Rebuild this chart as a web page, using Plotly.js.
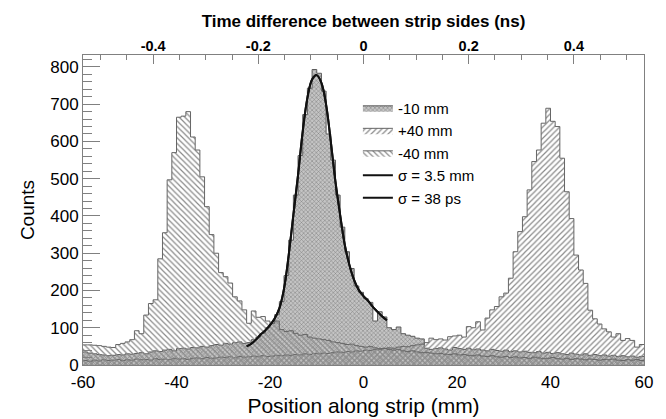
<!DOCTYPE html>
<html><head><meta charset="utf-8">
<script src="https://cdn.plot.ly/plotly-3.0.1.min.js"></script>
<style>html,body{margin:0;padding:0;background:#fff}</style>
</head><body>
<div id="chart" style="width:666px;height:419px"></div>
<script>
const binStart = -60;
const binWidth = 1;
const mmPerNs = 112.5;

const countsMinus10 = [
 35, 32, 30, 28, 27, 25, 26, 28, 27, 30, 29, 31, 33, 30, 35, 38, 36, 40, 42, 38,
 44, 45, 43, 47, 46, 50, 48, 52, 55, 53, 58, 56, 60, 62, 58, 60, 68, 75, 85, 100,
 112, 135, 170, 240, 335, 456, 562, 672, 743, 793, 783, 735, 620, 550, 456, 370, 304, 259, 212, 195,
 178, 168, 118, 143, 129, 100, 95, 102, 84, 80, 77, 72, 70,
 45, 42, 44, 46, 43, 40, 47, 44, 42, 45, 41, 43, 40, 38, 42, 39, 37, 40, 36, 38,
 35, 37, 34, 33, 36, 32, 34, 31, 33, 30, 28, 32, 29, 27, 30, 26, 28, 25, 27, 24,
 26, 23, 25, 22, 24, 21, 23
];
const countsPlus40 = [
 12, 10, 13, 11, 14, 12, 13, 15, 12, 14, 13, 16, 14, 15, 13, 17, 15, 16, 14, 18,
 16, 17, 15, 18, 19, 17, 20, 18, 19, 21, 20, 22, 19, 23, 21, 22, 24, 22, 25, 23,
 24, 26, 25, 27, 26, 28, 27, 30, 28, 31, 30, 32, 31, 33, 35, 34, 36, 35, 38, 37,
 40, 39, 42, 41, 44, 46, 45, 48, 50, 49, 52, 54,
 56, 60, 72, 68, 70, 67, 76, 78, 80, 75,
 103, 100, 116, 94, 126, 148, 157, 183, 193, 233, 304, 358, 398, 470, 546, 577, 649, 689,
 654, 640, 555, 465, 393, 295, 255, 219, 147, 124, 110, 97, 89, 75, 84, 66, 71, 66, 48, 55
];
const countsMinus40 = [
 54, 54, 53, 52, 50, 48, 47, 55, 58, 62,
 68, 92, 84, 134, 165, 175, 285, 355, 497, 570,
 665, 668, 680, 612, 577, 505, 425, 350, 300, 248,
 237, 220, 183, 172, 148, 112, 145, 128, 130, 118,
 112, 118, 95, 90, 92, 85, 80, 82, 75, 72, 70, 68, 66, 62, 60, 58, 55, 56, 52, 50,
 48, 50, 46, 44, 45, 42, 40, 42, 38, 36, 38, 35, 33, 34, 32, 30, 31, 29, 28, 30,
 27, 28, 26, 25, 27, 24, 23, 25, 22, 21, 23, 20, 22, 19, 20, 18, 21, 19, 17, 18,
 20, 17, 16, 18, 15, 17, 16, 14, 16, 15, 13, 15, 14, 16, 13, 12, 14, 13, 15, 12
];
const fitPosition = [-25,-24,-23,-22,-21,-20,-19,-18,-17,-16,-15,-14,-13,-12,-11,-10,-9,-8,-7,-6,-5,-4,-3,-2,-1,0,1,2,3,4,5];
const fitCounts = [50,57,68,82,93,107,125,152,205,295,403,510,627,717,766,778,757,699,600,492,403,322,268,228,201,185,172,156,143,130,120];

const xTickVals = [-60,-40,-20,0,20,40,60];
const xTickText = ['-60','-40','-20','0','20','40','60'];
const timeTickVals = [-0.4,-0.2,0,0.2,0.4];
const timeTickText = ['-0.4','-0.2','0','0.2','0.4'];

function stepXY(counts){
  const x = [], y = [];
  counts.forEach((c,i)=>{ x.push(binStart + i*binWidth); y.push(c); });
  x.push(binStart + counts.length*binWidth); y.push(counts[counts.length-1]);
  return {x, y};
}
const FONT = 'Liberation Sans, Arial, sans-serif';
const s10 = stepXY(countsMinus10), sP40 = stepXY(countsPlus40), sM40 = stepXY(countsMinus40);

const traces = [
  {type:'scatter', mode:'lines', name:'-10 mm', x:s10.x, y:s10.y,
   line:{shape:'hv', color:'#5a5a5a', width:1}, fill:'tozeroy', fillcolor:'#c2c2c2',
   fillpattern:{shape:'x', size:3, solidity:0.3, fgcolor:'#7a7a7a', bgcolor:'#c4c4c4'}},
  {type:'scatter', mode:'lines', name:'+40 mm', x:sP40.x, y:sP40.y,
   line:{shape:'hv', color:'#666', width:1}, fill:'tozeroy', fillcolor:'rgba(0,0,0,0)',
   fillpattern:{shape:'/', size:4, solidity:0.3, fgcolor:'#8a8a8a', bgcolor:'rgba(255,255,255,0)'}},
  {type:'scatter', mode:'lines', name:'-40 mm', x:sM40.x, y:sM40.y,
   line:{shape:'hv', color:'#666', width:1}, fill:'tozeroy', fillcolor:'rgba(0,0,0,0)',
   fillpattern:{shape:'\\', size:4, solidity:0.3, fgcolor:'#8a8a8a', bgcolor:'rgba(255,255,255,0)'}},
  {type:'scatter', mode:'lines', name:'σ = 3.5 mm', x:fitPosition, y:fitCounts,
   line:{shape:'spline', color:'#111', width:2}},
  {type:'scatter', mode:'lines', name:'σ = 38 ps', x:fitPosition, y:fitCounts,
   line:{shape:'spline', color:'#111', width:2}}
];

const layout = {
  width:666, height:419,
  margin:{l:83, r:22, t:55, b:54},
  paper_bgcolor:'#fff', plot_bgcolor:'#fff',
  font:{family:FONT, color:'#000'},
  showlegend:true,
  legend:{x:0.49, y:0.882, xanchor:'left', yanchor:'top', bgcolor:'rgba(0,0,0,0)',
          font:{size:15, family:FONT}, itemwidth:30, tracegroupgap:0},
  xaxis:{range:[-60,60], tickmode:'array', tickvals:xTickVals, ticktext:xTickText, ticks:'',
         showline:true, mirror:true, linecolor:'#808080', linewidth:1, showgrid:false, zeroline:false,
         ticklabelstandoff:2,
         tickfont:{size:17}, title:{text:'Position along strip (mm)', font:{size:21}, standoff:6}},
  xaxis2:{overlaying:'x', side:'top', range:[-60/mmPerNs, 60/mmPerNs], tickmode:'array',
          tickvals:timeTickVals, ticktext:timeTickText, ticks:'inside', ticklen:9, tickcolor:'#808080',
          minor:{tickmode:'linear', tick0:0, dtick:0.05, ticks:'inside', ticklen:5, tickcolor:'#808080'},
          showgrid:false, zeroline:false, showline:false,
          tickfont:{size:14.5, weight:'bold'},
          title:{text:'Time difference between strip sides (ns)', font:{size:17, weight:'bold'}, standoff:6}},
  yaxis:{range:[0,832], tickmode:'linear', tick0:0, dtick:100, ticks:'inside', ticklen:17, tickcolor:'#808080',
         minor:{tickmode:'linear', tick0:0, dtick:20, ticks:'inside', ticklen:9, tickcolor:'#808080'},
         showline:true, mirror:true, linecolor:'#808080', linewidth:1, showgrid:false, zeroline:false,
         tickfont:{size:17}, title:{text:'Counts', font:{size:19}, standoff:10}}
};
traces.push({type:'scatter', mode:'lines', x:[-60/mmPerNs, 60/mmPerNs], y:[0,0], xaxis:'x2',
  line:{color:'rgba(0,0,0,0)'}, showlegend:false, hoverinfo:'skip'});

Plotly.newPlot('chart', traces, layout, {staticPlot:true, displayModeBar:false});
</script>
</body></html>
